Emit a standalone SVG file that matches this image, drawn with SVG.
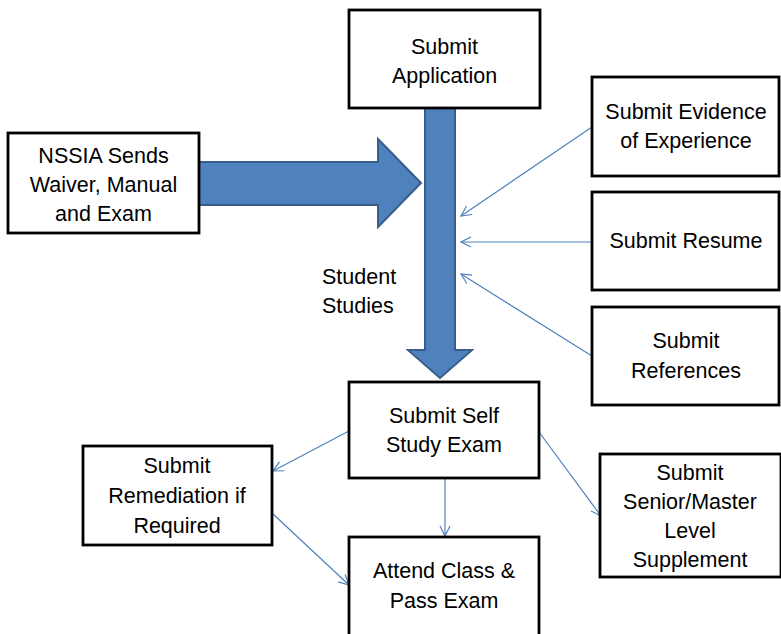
<svg xmlns="http://www.w3.org/2000/svg" width="781" height="634" viewBox="0 0 781 634">
<defs>
<marker id="ah" viewBox="0 0 12 12" refX="11" refY="6" markerWidth="12" markerHeight="12" markerUnits="userSpaceOnUse" orient="auto">
<path d="M1,1 L11,6 L1,11" fill="none" stroke="#4F81BD" stroke-width="1.2"/>
</marker>
</defs>
<style>
.box{fill:#fff;stroke:#000;stroke-width:2.8}
.t{font-family:"Liberation Sans",Arial,sans-serif;font-size:21.5px;fill:#000;text-anchor:middle}
.big{fill:#4F81BD;stroke:#385D8A;stroke-width:2}
.thin{stroke:#4F81BD;stroke-width:1.2;fill:none;marker-end:url(#ah)}
</style>
<rect width="781" height="634" fill="#fff"/>
<g id="connectors">
<path class="big" d="M199,162 L378,162 L378,139 L421,183 L378,227 L378,205 L199,205 Z"/>
<path class="big" d="M425,108 L455,108 L455,350 L472,350 L440,378 L408,350 L425,350 Z"/>
<line class="thin" x1="592" y1="127" x2="461" y2="216"/>
<line class="thin" x1="592" y1="242" x2="461" y2="242"/>
<line class="thin" x1="592" y1="356" x2="461" y2="274"/>
<line class="thin" x1="349" y1="431" x2="273" y2="471"/>
<line class="thin" x1="445" y1="478" x2="445" y2="536"/>
<line class="thin" x1="273" y1="514" x2="349" y2="585"/>
<line class="thin" x1="539" y1="432" x2="601" y2="516"/>
</g>
<g id="submit-application">
<rect class="box" x="349" y="10" width="191" height="98"/>
<text class="t" x="444.5" y="54">Submit</text>
<text class="t" x="444.5" y="83">Application</text>
</g>
<g id="nssia">
<rect class="box" x="8" y="133" width="191" height="100"/>
<text class="t" x="103.5" y="163">NSSIA Sends</text>
<text class="t" x="103.5" y="192">Waiver, Manual</text>
<text class="t" x="103.5" y="221">and Exam</text>
</g>
<g id="student-studies">
<text class="t" x="322" y="284" style="text-anchor:start">Student</text>
<text class="t" x="322" y="313" style="text-anchor:start">Studies</text>
</g>
<g id="evidence">
<rect class="box" x="592" y="77" width="187" height="99"/>
<text class="t" x="686" y="119">Submit Evidence</text>
<text class="t" x="686" y="148">of Experience</text>
</g>
<g id="resume">
<rect class="box" x="592" y="192" width="187" height="98"/>
<text class="t" x="686" y="248">Submit Resume</text>
</g>
<g id="references">
<rect class="box" x="592" y="307" width="187" height="98"/>
<text class="t" x="686" y="348">Submit</text>
<text class="t" x="686" y="378">References</text>
</g>
<g id="self-study">
<rect class="box" x="349" y="382" width="190" height="96"/>
<text class="t" x="444" y="423">Submit Self</text>
<text class="t" x="444" y="452">Study Exam</text>
</g>
<g id="remediation">
<rect class="box" x="83" y="446" width="189" height="99"/>
<text class="t" x="177" y="473">Submit</text>
<text class="t" x="177" y="503">Remediation if</text>
<text class="t" x="177" y="533">Required</text>
</g>
<g id="attend">
<rect class="box" x="349" y="537" width="190" height="110"/>
<text class="t" x="444" y="578">Attend Class &amp;</text>
<text class="t" x="444" y="608">Pass Exam</text>
</g>
<g id="supplement">
<rect class="box" x="600" y="454" width="181" height="123"/>
<text class="t" x="690" y="480">Submit</text>
<text class="t" x="690" y="509">Senior/Master</text>
<text class="t" x="690" y="538">Level</text>
<text class="t" x="690" y="567">Supplement</text>
</g>
</svg>
